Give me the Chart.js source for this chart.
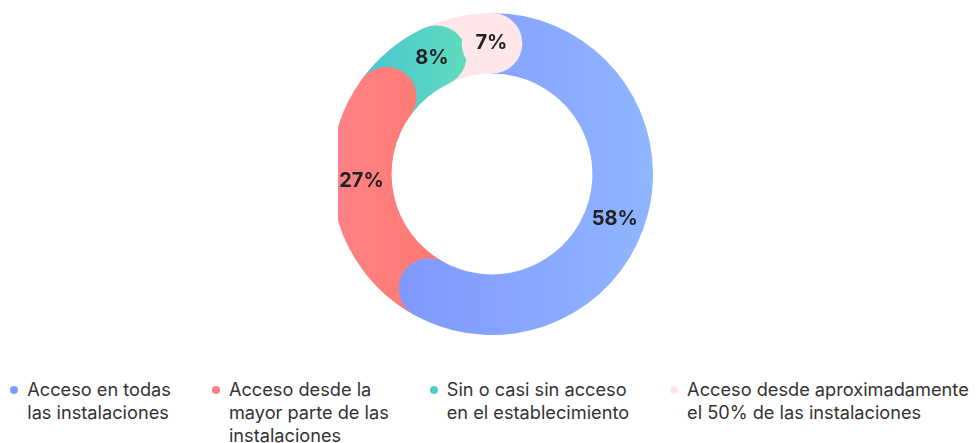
<!DOCTYPE html>
<html lang="es">
<head>
<meta charset="utf-8">
<script src="https://cdn.jsdelivr.net/npm/chart.js@4.4.1/dist/chart.umd.min.js"></script>
<style>
  html, body { margin: 0; padding: 0; background: #fff; overflow: hidden; }
  body { width: 979px; height: 443px; position: relative; font-family: Inter, sans-serif; }
  #wrap { position: absolute; left: 0; top: 0; width: 979px; height: 348px; }
  #legend {
    position: absolute; left: 0; top: 378px; width: 979px;
    display: flex; justify-content: center; gap: 41px;
    font-size: 18.2px; line-height: 23px; color: #333333;
  }
  .item { display: flex; align-items: flex-start; }
  .dot { width: 8px; height: 8px; border-radius: 50%; margin: 7.5px 9px 0 0; flex: none; }
</style>
</head>
<body>
<div id="wrap"><canvas id="chart"></canvas></div>
<div id="legend"></div>
<script>
const categories = [
    ['Acceso en todas', 'las instalaciones'],
    ['Acceso desde la', 'mayor parte de las', 'instalaciones'],
    ['Sin o casi sin acceso', 'en el establecimiento'],
    ['Acceso desde aproximadamente', 'el 50% de las instalaciones']
];
const shares = [58, 27, 8, 7];
const percentLabels = ['58%', '27%', '8%', '7%'];
const gradientStops = [
    ['#7f96ff', '#8fb6ff'],
    ['#ff8288', '#ff7a6e'],
    ['#4bc5d3', '#60dcbb'],
    ['#ffe6e9', '#ffe6e9']
];
const legendColors = ['#8199ff', '#ff7c7b', '#4fcdc8', '#ffe5e8'];

const CLIP_LEFT = 338; // the reference cuts the ring off on the left

const total = shares.reduce((a, b) => a + b, 0);

function ringRadii(chart) {
    const ctrl = chart.getDatasetMeta(0).controller;
    return { outer: ctrl.outerRadius || 161, inner: ctrl.innerRadius || 108.5 };
}

// horizontal gradient across the part of the ring a segment covers (cap included)
function segmentGradient(c) {
    const chart = c.chart;
    const area = chart.chartArea;
    const i = c.dataIndex;
    const stops = gradientStops[i];
    if (!area) return stops[0];
    const { outer, inner } = ringRadii(chart);
    const cx = (area.left + area.right) / 2;
    const capAngle = ((outer - inner) / 2) / ((outer + inner) / 2);
    const before = shares.slice(0, i).reduce((a, b) => a + b, 0);
    const start = -Math.PI / 2 + before / total * 2 * Math.PI;
    const end = start + shares[i] / total * 2 * Math.PI + capAngle;
    let minX = Infinity, maxX = -Infinity;
    for (let k = 0; k <= 80; k++) {
        const a = start + (end - start) * k / 80;
        [inner, outer].forEach(r => {
            const x = cx + r * Math.cos(a);
            minX = Math.min(minX, x);
            maxX = Math.max(maxX, x);
        });
    }
    const g = chart.ctx.createLinearGradient(minX, 0, maxX, 0);
    g.addColorStop(0, stops[0]);
    g.addColorStop(1, stops[1]);
    return g;
}

const roundedRing = {
    id: 'roundedRing',
    beforeDatasetsDraw(chart) {
        const ctx = chart.ctx;
        ctx.save();
        ctx.beginPath();
        ctx.rect(CLIP_LEFT, 0, chart.width - CLIP_LEFT, chart.height);
        ctx.clip();
    },
    afterDatasetsDraw(chart) {
        const ctx = chart.ctx;
        const arcs = chart.getDatasetMeta(0).data;
        // round cap at the end of every segment, laid over the next one
        arcs.forEach(arc => {
            const p = arc.getProps(['x', 'y', 'endAngle', 'innerRadius', 'outerRadius'], true);
            const mid = (p.innerRadius + p.outerRadius) / 2;
            const half = (p.outerRadius - p.innerRadius) / 2;
            ctx.beginPath();
            ctx.arc(p.x + mid * Math.cos(p.endAngle), p.y + mid * Math.sin(p.endAngle), half, 0, 2 * Math.PI);
            ctx.fillStyle = arc.options.backgroundColor;
            ctx.fill();
        });
        ctx.restore();

        // percentage labels in the visible part of each segment
        ctx.save();
        ctx.font = 'bold 20px Inter';
        ctx.fillStyle = '#222222';
        ctx.textAlign = 'center';
        ctx.textBaseline = 'middle';
        arcs.forEach((arc, i) => {
            const p = arc.getProps(['x', 'y', 'startAngle', 'endAngle', 'innerRadius', 'outerRadius'], true);
            const mid = (p.innerRadius + p.outerRadius) / 2;
            const capAngle = ((p.outerRadius - p.innerRadius) / 2) / mid;
            const a = (p.startAngle + p.endAngle) / 2 + capAngle * (1 - shares[i] / total);
            ctx.fillText(percentLabels[i], p.x + mid * Math.cos(a), p.y + mid * Math.sin(a));
        });
        ctx.restore();
    }
};

const ctx = document.getElementById('chart').getContext('2d');
const chart = new Chart(ctx, {
    type: 'doughnut',
    data: {
        labels: categories.map(c => c.join(' ')),
        datasets: [{
            data: shares,
            backgroundColor: segmentGradient,
            borderWidth: 0,
            radius: 161,
            cutout: 108.5
        }]
    },
    options: {
        responsive: true,
        maintainAspectRatio: false,
        animation: false,
        events: [],
        rotation: 0,
        layout: { padding: { left: 5 } },
        plugins: {
            tooltip: { enabled: false },
            legend: { display: false }
        }
    },
    plugins: [roundedRing]
});

// legend below the ring, built from the same arrays
const legendEl = document.getElementById('legend');
categories.forEach((lines, i) => {
    const item = document.createElement('div');
    item.className = 'item';
    const dot = document.createElement('span');
    dot.className = 'dot';
    dot.style.background = legendColors[i];
    const text = document.createElement('span');
    lines.forEach((line, k) => {
        if (k) text.appendChild(document.createElement('br'));
        text.appendChild(document.createTextNode(line));
    });
    item.appendChild(dot);
    item.appendChild(text);
    legendEl.appendChild(item);
});
</script>
</body>
</html>
